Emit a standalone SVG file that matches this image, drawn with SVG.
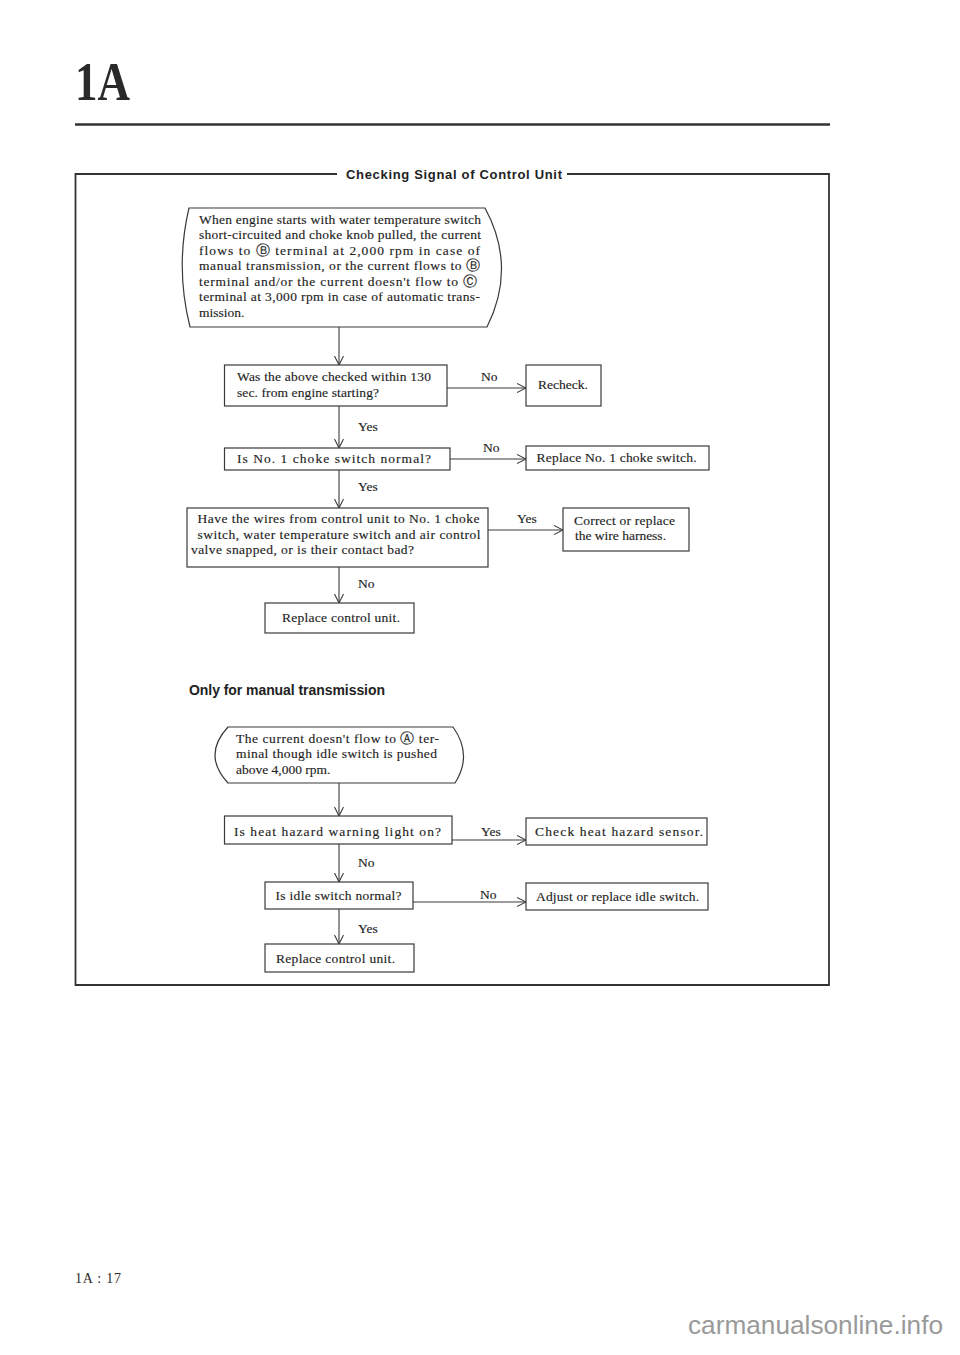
<svg xmlns="http://www.w3.org/2000/svg" width="960" height="1355" viewBox="0 0 960 1355">
<style>
.t{font-family:"Liberation Serif","DejaVu Sans",serif;font-size:13.5px;fill:#1e1e1e;stroke:#1e1e1e;stroke-width:0.15}
.box{fill:#fff;stroke:#3a3a3a;stroke-width:1.2}
.c{stroke:#3a3a3a;stroke-width:1.1;fill:none}
.h{font-family:"Liberation Sans",Arial,sans-serif;font-weight:bold;fill:#222}
</style>
<defs>
<marker id="ah" viewBox="0 0 10 10" refX="10" refY="5" markerWidth="9" markerHeight="10" markerUnits="userSpaceOnUse" orient="auto">
<path d="M0,0 L10,5 L0,10" fill="none" stroke="#3a3a3a" stroke-width="1.2"/>
</marker>
</defs>
<rect width="960" height="1355" fill="#fff"/>

<g id="header">
<text x="75" y="100" font-family="Liberation Serif,serif" font-weight="bold" font-size="54" fill="#2a2a2a" textLength="55" lengthAdjust="spacingAndGlyphs">1A</text>
<line x1="75" y1="124.5" x2="830" y2="124.5" stroke="#333" stroke-width="2.5"/>
</g>

<g id="frame">
<path d="M337,174 H75.5 V985 H829 V174 H567" fill="none" stroke="#333" stroke-width="1.8"/>
<text class="h" x="346" y="178.5" font-size="13" textLength="216" lengthAdjust="spacing">Checking Signal of Control Unit</text>
</g>

<g id="connectors">
<line class="c" x1="339" y1="327" x2="339" y2="365" marker-end="url(#ah)"/>
<line class="c" x1="447" y1="388" x2="526" y2="388" marker-end="url(#ah)"/>
<text class="t" x="481" y="381">No</text>
<line class="c" x1="339" y1="406" x2="339" y2="448" marker-end="url(#ah)"/>
<text class="t" x="358" y="431">Yes</text>
<line class="c" x1="450" y1="459" x2="526" y2="459" marker-end="url(#ah)"/>
<text class="t" x="483" y="452">No</text>
<line class="c" x1="339" y1="470" x2="339" y2="508" marker-end="url(#ah)"/>
<text class="t" x="358" y="491">Yes</text>
<line class="c" x1="488" y1="530" x2="563" y2="530" marker-end="url(#ah)"/>
<text class="t" x="517" y="523">Yes</text>
<line class="c" x1="339" y1="567" x2="339" y2="603" marker-end="url(#ah)"/>
<text class="t" x="358" y="588">No</text>
<line class="c" x1="339" y1="783" x2="339" y2="816" marker-end="url(#ah)"/>
<line class="c" x1="452" y1="840" x2="526" y2="840" marker-end="url(#ah)"/>
<text class="t" x="481" y="836">Yes</text>
<line class="c" x1="339" y1="844" x2="339" y2="882" marker-end="url(#ah)"/>
<text class="t" x="358" y="867">No</text>
<line class="c" x1="413" y1="902" x2="526" y2="902" marker-end="url(#ah)"/>
<text class="t" x="480" y="899">No</text>
<line class="c" x1="339" y1="909" x2="339" y2="944" marker-end="url(#ah)"/>
<text class="t" x="358" y="933">Yes</text>
</g>

<g id="start1">
<path class="box" d="M189,208 H485 Q517,267 487,327 H190 Q175,267 189,208 Z"/>
<text class="t" x="199" y="223.5" textLength="282" lengthAdjust="spacing">When engine starts with water temperature switch</text>
<text class="t" x="199" y="239" textLength="282" lengthAdjust="spacing">short-circuited and choke knob pulled, the current</text>
<text class="t" x="199" y="254.5" textLength="281" lengthAdjust="spacing">flows to Ⓑ terminal at 2,000 rpm in case of</text>
<text class="t" x="199" y="270" textLength="281" lengthAdjust="spacing">manual transmission, or the current flows to Ⓑ</text>
<text class="t" x="199" y="285.5" textLength="278" lengthAdjust="spacing">terminal and/or the current doesn't flow to Ⓒ</text>
<text class="t" x="199" y="301" textLength="281" lengthAdjust="spacing">terminal at 3,000 rpm in case of automatic trans-</text>
<text class="t" x="199" y="316.5">mission.</text>
</g>

<g id="q1">
<rect class="box" x="224.5" y="365" width="222.5" height="41"/>
<text class="t" x="237" y="381" textLength="194" lengthAdjust="spacing">Was the above checked within 130</text>
<text class="t" x="237" y="397" textLength="142" lengthAdjust="spacing">sec. from engine starting?</text>
</g>
<g id="recheck">
<rect class="box" x="526" y="365" width="75" height="41"/>
<text class="t" x="538" y="389">Recheck.</text>
</g>

<g id="q2">
<rect class="box" x="224.5" y="448" width="225.5" height="22"/>
<text class="t" x="237" y="463" textLength="194" lengthAdjust="spacing">Is No. 1 choke switch normal?</text>
</g>
<g id="replaceChoke">
<rect class="box" x="526" y="446" width="183" height="24"/>
<text class="t" x="536.5" y="462" textLength="160" lengthAdjust="spacing">Replace No. 1 choke switch.</text>
</g>

<g id="q3">
<rect class="box" x="187" y="508" width="301" height="59"/>
<text class="t" x="197.5" y="523" textLength="282" lengthAdjust="spacing">Have the wires from control unit to No. 1 choke</text>
<text class="t" x="197.5" y="539" textLength="283" lengthAdjust="spacing">switch, water temperature switch and air control</text>
<text class="t" x="191" y="554" textLength="223" lengthAdjust="spacing">valve snapped, or is their contact bad?</text>
</g>
<g id="correctHarness">
<rect class="box" x="563" y="508" width="126" height="43"/>
<text class="t" x="574" y="525" textLength="101" lengthAdjust="spacing">Correct or replace</text>
<text class="t" x="575" y="540" textLength="91" lengthAdjust="spacing">the wire harness.</text>
</g>

<g id="replaceUnit1">
<rect class="box" x="265" y="603" width="149" height="30"/>
<text class="t" x="282" y="622" textLength="118" lengthAdjust="spacing">Replace control unit.</text>
</g>

<g id="section2">
<text class="h" x="189" y="695" font-size="14" textLength="196" lengthAdjust="spacing">Only for manual transmission</text>
</g>

<g id="start2">
<path class="box" d="M228,727 H453 Q473,755 455,783 H228 Q202,755 228,727 Z"/>
<text class="t" x="236" y="742.5" textLength="203" lengthAdjust="spacing">The current doesn't flow to Ⓐ ter-</text>
<text class="t" x="236" y="758" textLength="201" lengthAdjust="spacing">minal though idle switch is pushed</text>
<text class="t" x="236" y="773.5">above 4,000 rpm.</text>
</g>

<g id="q4">
<rect class="box" x="224.5" y="816" width="227.5" height="28"/>
<text class="t" x="234" y="836" textLength="207" lengthAdjust="spacing">Is heat hazard warning light on?</text>
</g>
<g id="checkSensor">
<rect class="box" x="526" y="818" width="181" height="27"/>
<text class="t" x="535" y="836" textLength="168" lengthAdjust="spacing">Check heat hazard sensor.</text>
</g>

<g id="q5">
<rect class="box" x="265" y="882" width="148" height="27"/>
<text class="t" x="275.5" y="900" textLength="126" lengthAdjust="spacing">Is idle switch normal?</text>
</g>
<g id="adjustIdle">
<rect class="box" x="526" y="883" width="182" height="27"/>
<text class="t" x="536" y="901" textLength="163" lengthAdjust="spacing">Adjust or replace idle switch.</text>
</g>

<g id="replaceUnit2">
<rect class="box" x="265" y="944" width="149" height="28"/>
<text class="t" x="276" y="963" textLength="119" lengthAdjust="spacing">Replace control unit.</text>
</g>

<g id="footer">
<text x="75" y="1283" font-family="Liberation Serif,serif" font-size="14" fill="#2a2a2a" textLength="46" lengthAdjust="spacing">1A : 17</text>
<text x="688" y="1334" font-family="Liberation Sans,Arial,sans-serif" font-size="26" fill="#9a9a9a" textLength="255" lengthAdjust="spacingAndGlyphs">carmanualsonline.info</text>
</g>
</svg>
